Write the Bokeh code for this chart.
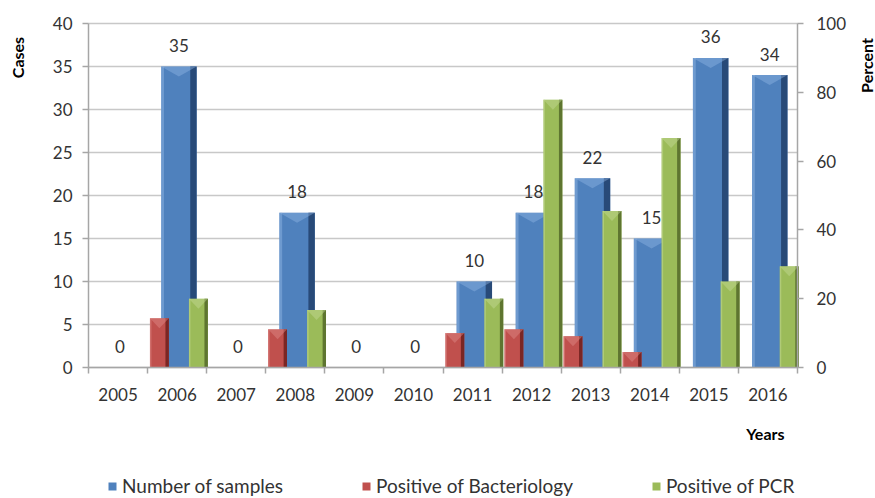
import numpy as np
from bokeh.plotting import figure
from bokeh.models import (Range1d, LinearAxis, FixedTicker, Legend,
                          LegendItem, ColumnDataSource, Label)
from bokeh.transform import dodge
from bokeh.core.properties import value
from bokeh.embed import file_html
from bokeh.resources import INLINE

# ---------------- data ----------------
years = ["2005", "2006", "2007", "2008", "2009", "2010",
         "2011", "2012", "2013", "2014", "2015", "2016"]
number_of_samples = [0, 35, 0, 18, 0, 0, 10, 18, 22, 15, 36, 34]
positive_bacteriology_pct = [0, 14.3, 0, 11.1, 0, 0, 10.0, 11.1, 9.1, 4.5, 0, 0]
positive_pcr_pct = [0, 20.0, 0, 16.7, 0, 0, 20.0, 77.8, 45.5, 66.7, 25.0, 29.4]
cases_ticks = [0, 5, 10, 15, 20, 25, 30, 35, 40]
percent_ticks = [0, 20, 40, 60, 80, 100]

FONT = "Lato"
TXT = "#333333"
AX = "#a6a6a6"
GRID = "#c8c8c8"

# ---------------- geometry (pixels) ----------------
W, H = 875, 498
PLOT_L, PLOT_R, PLOT_T, PLOT_B = 88, 797, 23, 367   # axes box in the picture
n = len(years)
CASES_MAX, PCT_MAX = 40, 100
ppx = (PLOT_R - PLOT_L) / n                 # px per category
ppy = (PLOT_B - PLOT_T) / CASES_MAX         # px per case


def X(px):  # picture x -> data x
    return (px - PLOT_L) / ppx


def Y(py):  # picture y -> data y (cases)
    return (PLOT_B - py) / ppy


xc = np.arange(n) + 0.5

# the frame covers the whole canvas; axes sit at fixed data locations
p = figure(width=W, height=H, output_backend="svg", toolbar_location=None,
           title=None,
           x_range=Range1d(X(0), X(W)), y_range=Range1d(Y(H), Y(0)),
           min_border_left=0, min_border_right=0, min_border_top=0,
           min_border_bottom=0)
k = PCT_MAX / CASES_MAX
p.extra_y_ranges = {"pct": Range1d(Y(H) * k, Y(0) * k)}
p.outline_line_color = None
p.background_fill_color = "white"
p.border_fill_color = "white"
p.xgrid.visible = False
p.ygrid.visible = False

src = ColumnDataSource(dict(x=xc, year=years, samples=number_of_samples,
                            bact=positive_bacteriology_pct,
                            pcr=positive_pcr_pct,
                            lbl=[str(v) for v in number_of_samples]))

# horizontal gridlines at the cases ticks
p.segment(x0=0, x1=n, y0=cases_ticks, y1=cases_ticks,
          line_color=GRID, line_width=1.5)

# ---------------- axes ----------------
xa = p.xaxis[0]
xa.fixed_location = 0
xa.bounds = (0, n)
xa.ticker = FixedTicker(ticks=list(xc), minor_ticks=list(np.arange(n + 1)))
xa.major_label_overrides = {float(i + 0.5): y for i, y in enumerate(years)}
xa.major_tick_out = 0
xa.major_tick_in = 0
xa.minor_tick_out = 6
xa.minor_tick_in = 0
xa.minor_tick_line_color = AX
xa.minor_tick_line_width = 1.5
xa.major_label_standoff = 14

ya = p.yaxis[0]
ya.fixed_location = 0
ya.bounds = (0, CASES_MAX)
ya.ticker = FixedTicker(ticks=cases_ticks)
ya.major_tick_out = 6
ya.major_tick_in = 0
ya.minor_tick_line_color = None
ya.major_label_standoff = 10

ra = LinearAxis(y_range_name="pct", ticker=FixedTicker(ticks=percent_ticks),
                bounds=(0, PCT_MAX), fixed_location=n)
ra.major_tick_out = 6
ra.major_tick_in = 0
ra.minor_tick_line_color = None
ra.major_label_standoff = 13
p.add_layout(ra, "right")

for ax in (xa, ya, ra):
    ax.axis_line_color = AX
    ax.axis_line_width = 1.5
    ax.major_tick_line_color = AX
    ax.major_tick_line_width = 1.5
    ax.major_label_text_font = FONT
    ax.major_label_text_font_size = "17px"
    ax.major_label_text_color = TXT


# ---------------- bars (with a simple bevel look) ----------------
def bar3d(field, offset, width, color, dark, light, range_name, px_per_unit):
    kw = {} if range_name is None else {"y_range_name": range_name}
    main = p.vbar(x=dodge("x", offset), top=field, width=width, bottom=0,
                  source=src, fill_color=color, line_color=None, **kw)
    p.vbar(x=dodge("x", offset + width / 2 - width * 0.09), top=field,
           width=width * 0.18, bottom=0, source=src, fill_color=dark,
           line_color=None, **kw)
    p.vbar(x=dodge("x", offset - width / 2 + width * 0.04), top=field,
           width=width * 0.08, bottom=0, source=src, fill_color=light,
           fill_alpha=0.5, line_color=None, **kw)
    vals = src.data[field]
    depth = 10.0 / px_per_unit
    xs, ys = [], []
    for x, v in zip(xc, vals):
        if v > 0:
            cx = x + offset
            xs.append([cx - width / 2, cx + width / 2, cx])
            ys.append([v, v, v - depth])
    if xs:
        p.patches(xs, ys, fill_color=light, fill_alpha=0.45,
                  line_color=None, **kw)
    return main


r_samples = bar3d("samples", 0.03, 0.6, "#4F81BD", "#284A78", "#8DB3E2",
                  None, ppy)
r_bact = bar3d("bact", -0.30, 0.32, "#C0504D", "#7A2624", "#E08C8A",
               "pct", ppy / k)
r_pcr = bar3d("pcr", 0.36, 0.32, "#9BBB59", "#5E7530", "#C6DC96",
              "pct", ppy / k)

# value labels above sample bars
p.text(x=dodge("x", 0.03), y="samples", text="lbl", source=src,
       text_align="center", text_baseline="alphabetic", y_offset=-21,
       text_font=value(FONT), text_font_size="17px", text_color=TXT)

# ---------------- axis titles ----------------
title_style = dict(text_font=FONT, text_font_size="16px",
                   text_font_style="bold", text_color="black",
                   text_baseline="middle")
p.add_layout(Label(x=X(17), y=Y(57), text="Cases", angle=np.pi / 2,
                   text_align="center", **title_style))
p.add_layout(Label(x=X(866), y=Y(65), text="Percent", angle=np.pi / 2,
                   text_align="center", **title_style))
p.add_layout(Label(x=X(784), y=Y(433), text="Years", text_align="right",
                   **title_style))

# ---------------- legend ----------------
legend = Legend(items=[LegendItem(label="Number of samples", renderers=[r_samples]),
                       LegendItem(label="Positive of Bacteriology", renderers=[r_bact]),
                       LegendItem(label="Positive of PCR", renderers=[r_pcr])],
                orientation="horizontal", location=(107, 1), spacing=78,
                glyph_width=10, glyph_height=10, label_standoff=5,
                padding=0, margin=0, border_line_color=None,
                background_fill_alpha=0, label_text_font=FONT,
                label_text_font_size="19px", label_text_color=TXT)
p.add_layout(legend)

open("out.html", "w").write(file_html(p, INLINE))
